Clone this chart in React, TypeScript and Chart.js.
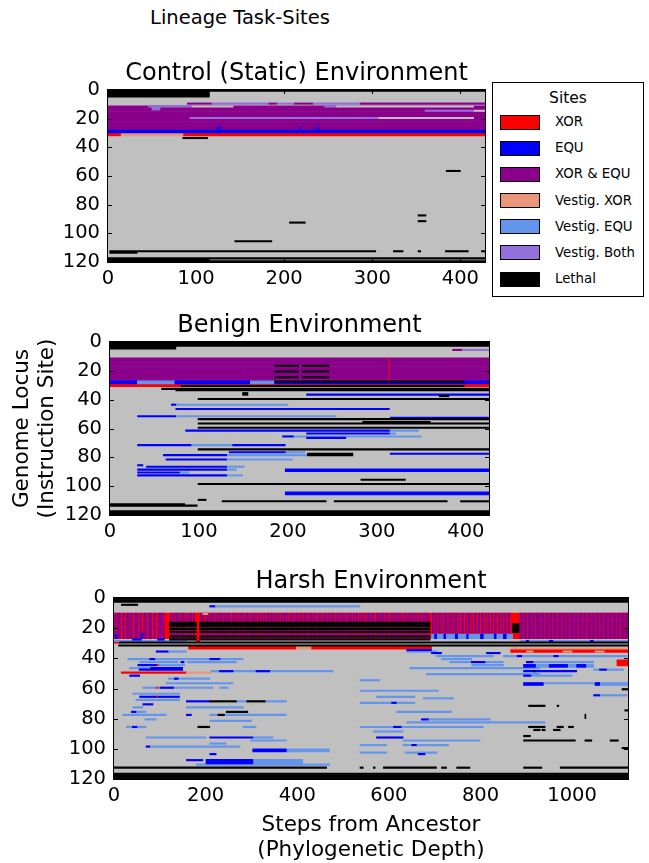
import React, { useEffect, useRef } from "react";
import { Chart, registerables } from "chart.js";

Chart.register(...registerables);

// A block is [firstLocus, endLocus (exclusive), fromStep, toStep]
type Block = [number, number, number, number];

const FONT = "'DejaVu Sans', 'Bitstream Vera Sans', sans-serif";

const siteKinds = ["XOR", "EQU", "XOR & EQU", "Vestig. XOR", "Vestig. EQU", "Vestig. Both", "Lethal"];
const siteColors = ["#ff0000", "#0000ff", "#8b008b", "#e9967a", "#6495ed", "#9370db", "#000000"];
const unusedColor = "#c0c0c0";

const locusTicks = [0, 20, 40, 60, 80, 100, 120];
const stepTicksShort = [0, 100, 200, 300, 400];
const stepTicksLong = [0, 200, 400, 600, 800, 1000];

// ---------------- Control (Static) Environment ----------------
const controlXor: Block[] = [[30, 32, 0, 15], [30, 32, 85, 428]];
const controlXorEqu: Block[] = [
  [11, 28, 0, 428], [9, 10, 90, 118], [9, 10, 182, 192], [9, 10, 211, 233], [9, 10, 286, 428],
];
const controlEqu: Block[] = [[28, 30, 0, 428], [26, 27, 123, 129], [26, 27, 218, 220], [26, 27, 236, 240]];
const controlVestigXor: Block[] = [[30, 32, 15, 85]];
const controlUnused: Block[] = [[11, 12, 95, 142], [11, 12, 259, 415], [14, 15, 415, 428], [19, 20, 307, 415]];
const controlVestigEqu: Block[] = [];
const controlVestigBoth: Block[] = [
  [9, 10, 118, 182], [9, 10, 192, 211], [9, 10, 233, 286], [11, 12, 46, 95], [12, 14, 50, 59],
  [11, 12, 246, 259], [14, 15, 360, 415], [19, 20, 93, 307],
];
const controlLethal: Block[] = [
  [0, 5, 0, 115], [0, 1, 115, 428], [33, 34, 85, 113], [56, 57, 384, 400], [87, 88, 352, 361],
  [91, 92, 352, 361], [92, 93, 206, 224], [105, 106, 144, 186], [112, 113, 2, 304], [112, 113, 324, 335],
  [112, 113, 352, 355], [112, 113, 383, 409], [112, 113, 424, 428], [113, 114, 2, 33],
  [117, 120, 0, 115], [117, 118, 115, 428], [119, 120, 115, 428],
];

// ---------------- Benign Environment ----------------
const benignXor: Block[] = [[11, 27, 313, 315], [29, 31, 0, 426]];
const benignXorEqu: Block[] = [[11, 27, 0, 313], [11, 27, 315, 426], [5, 6, 385, 396]];
const benignEqu: Block[] = [
  [27, 29, 0, 30], [27, 29, 73, 157], [28, 29, 185, 398], [27, 29, 398, 426], [36, 37, 221, 426],
  [43, 44, 69, 74], [46, 47, 74, 314], [51, 52, 31, 74], [52, 53, 315, 426], [61, 62, 85, 314],
  [63, 64, 221, 314], [65, 66, 194, 206], [66, 67, 221, 265], [71, 72, 31, 91], [71, 72, 138, 197],
  [76, 77, 134, 197], [77, 78, 315, 426], [78, 79, 60, 131], [81, 82, 63, 131], [85, 86, 31, 37],
  [86, 87, 41, 131], [88, 89, 31, 131], [88, 90, 197, 426], [90, 91, 31, 78], [92, 93, 31, 131],
  [104, 106, 197, 426],
];
const benignVestigXor: Block[] = [];
const benignUnused: Block[] = [[1, 2, 318, 426]];
const benignVestigEqu: Block[] = [
  [27, 29, 30, 73], [27, 29, 157, 185], [43, 44, 74, 200], [51, 52, 74, 254], [61, 62, 314, 347],
  [63, 64, 314, 321], [65, 66, 206, 350], [71, 72, 91, 138], [76, 77, 197, 219], [78, 79, 131, 222],
  [81, 82, 131, 205], [86, 87, 131, 151], [88, 89, 131, 142], [90, 91, 78, 89], [92, 93, 131, 149],
];
const benignVestigBoth: Block[] = [[5, 6, 396, 426]];
const benignLethal: Block[] = [
  [0, 3, 0, 426], [3, 5, 0, 74], [16, 17, 185, 212], [16, 17, 216, 246], [20, 21, 185, 212],
  [20, 21, 216, 246], [24, 25, 185, 212], [24, 25, 216, 246], [27, 28, 185, 398], [30, 31, 80, 398],
  [32, 33, 58, 426], [33, 34, 74, 426], [35, 37, 149, 155], [37, 38, 370, 381], [39, 40, 99, 426],
  [53, 54, 99, 426], [55, 56, 284, 360], [56, 57, 99, 426], [59, 60, 99, 426], [74, 75, 99, 426],
  [77, 79, 222, 273], [95, 96, 282, 332], [98, 99, 99, 426], [109, 110, 99, 108], [110, 111, 126, 243],
  [110, 111, 252, 379], [110, 111, 394, 426], [112, 113, 0, 84], [113, 114, 0, 98], [117, 120, 0, 426],
];

// ---------------- Harsh Environment ----------------
const harshXor: Block[] = [
  [10, 27, 0, 1122], [10, 29, 180, 187], [29, 30, 0, 12], [32, 34, 163, 398], [32, 34, 430, 693],
  [34, 36, 866, 1122], [41, 45, 1098, 1122], [49, 50, 16, 158], [44, 45, 92, 98], [59, 60, 92, 96],
  [65, 66, 92, 96],
];
const harshXorEqu: Block[] = [
  [10, 27, 2, 5], [10, 27, 8, 14], [10, 27, 19, 23], [10, 27, 27, 33], [10, 27, 36, 40], [10, 27, 45, 52],
  [10, 27, 56, 60], [10, 27, 65, 71], [10, 27, 75, 82], [10, 27, 87, 91], [10, 27, 96, 104], [10, 27, 107, 110],
  [10, 27, 123, 126], [10, 27, 129, 132], [10, 27, 135, 139], [10, 27, 142, 145], [10, 27, 148, 152],
  [10, 27, 155, 157], [10, 27, 161, 164], [10, 27, 167, 170], [10, 27, 173, 176], [10, 27, 189, 193],
  [10, 27, 196, 198], [10, 27, 202, 206], [10, 27, 209, 211], [10, 27, 214, 218], [10, 27, 222, 225],
  [10, 27, 228, 230], [10, 27, 233, 237], [10, 27, 240, 243], [10, 27, 246, 249], [10, 27, 252, 254],
  [10, 27, 258, 262], [10, 27, 265, 268], [10, 27, 271, 273], [10, 27, 277, 281], [10, 27, 284, 286],
  [10, 27, 289, 293], [10, 27, 297, 299], [10, 27, 302, 306], [10, 27, 309, 312], [10, 27, 315, 317],
  [10, 27, 321, 325], [10, 27, 328, 330], [10, 27, 334, 338], [10, 27, 341, 344], [10, 27, 347, 349],
  [10, 27, 352, 356], [10, 27, 360, 362], [10, 27, 365, 369], [10, 27, 372, 375], [10, 27, 378, 380],
  [10, 27, 384, 388], [10, 27, 391, 393], [10, 27, 397, 401], [10, 27, 404, 407], [10, 27, 410, 412],
  [10, 27, 415, 419], [10, 27, 423, 425], [10, 27, 428, 432], [10, 27, 435, 438], [10, 27, 441, 443],
  [10, 27, 447, 451], [10, 27, 454, 456], [10, 27, 459, 463], [10, 27, 467, 470], [10, 27, 473, 475],
  [10, 27, 478, 482], [10, 27, 486, 488], [10, 27, 491, 495], [10, 27, 498, 501], [10, 27, 504, 506],
  [10, 27, 510, 514], [10, 27, 517, 519], [10, 27, 522, 526], [10, 27, 529, 532], [10, 27, 536, 538],
  [10, 27, 541, 545], [10, 27, 549, 551], [10, 27, 554, 558], [10, 27, 561, 564], [10, 27, 567, 569],
  [10, 27, 573, 577], [10, 27, 580, 582], [10, 27, 585, 589], [10, 27, 592, 595], [10, 27, 598, 600],
  [10, 27, 604, 608], [10, 27, 611, 613], [10, 27, 616, 620], [10, 27, 623, 626], [10, 27, 629, 631],
  [10, 27, 635, 639], [10, 27, 642, 644], [10, 27, 647, 651], [10, 27, 654, 657], [10, 27, 660, 662],
  [10, 27, 666, 670], [10, 27, 673, 675], [10, 27, 678, 682], [10, 27, 685, 688],
  [10, 24, 695, 699], [10, 24, 702, 705], [10, 24, 709, 713], [10, 24, 716, 718], [10, 24, 722, 727],
  [10, 24, 731, 734], [10, 24, 737, 740], [10, 24, 744, 749], [10, 24, 753, 755], [10, 24, 759, 763],
  [10, 24, 767, 770], [10, 24, 773, 777], [10, 24, 781, 783], [10, 24, 787, 791], [10, 24, 795, 798],
  [10, 24, 802, 806], [10, 24, 810, 812], [10, 24, 816, 820], [10, 24, 824, 827], [10, 24, 831, 835],
  [10, 24, 839, 841], [10, 24, 845, 849], [10, 24, 853, 856], [10, 24, 860, 864],
  [10, 27, 886, 892], [10, 27, 895, 901], [10, 27, 904, 911], [10, 27, 914, 919], [10, 27, 922, 929],
  [10, 27, 932, 938], [10, 27, 941, 948], [10, 27, 951, 956], [10, 27, 959, 966], [10, 27, 969, 975],
  [10, 27, 978, 985], [10, 27, 988, 993], [10, 27, 996, 1003], [10, 27, 1006, 1012], [10, 27, 1015, 1022],
  [10, 27, 1025, 1030], [10, 27, 1033, 1040], [10, 27, 1043, 1049], [10, 27, 1052, 1059],
  [10, 27, 1062, 1067], [10, 27, 1070, 1077], [10, 27, 1080, 1086], [10, 27, 1089, 1096],
  [10, 27, 1099, 1104], [10, 27, 1107, 1114], [10, 27, 1117, 1122],
];
const harshVestigXor: Block[] = [
  [10, 11, 194, 205], [32, 34, 398, 430], [33, 34, 866, 1122], [35, 36, 900, 915], [35, 36, 980, 1000],
  [35, 36, 1050, 1070], [49, 50, 158, 212],
];
const harshUnused: Block[] = [];
const harshVestigEqu: Block[] = [
  [5, 6, 220, 537], [28, 29, 0, 158], [24, 27, 693, 870], [28, 29, 886, 1122], [35, 36, 118, 158],
  [35, 36, 639, 705], [40, 41, 30, 78], [40, 41, 89, 209], [40, 41, 231, 282], [42, 43, 56, 140],
  [42, 43, 160, 267], [44, 45, 98, 154], [46, 47, 34, 80], [48, 49, 212, 478], [53, 54, 118, 209],
  [56, 57, 114, 260], [59, 60, 63, 92], [59, 60, 130, 216], [59, 60, 231, 249], [63, 64, 41, 143],
  [67, 68, 48, 143], [68, 69, 267, 290], [68, 69, 330, 376], [72, 73, 41, 63], [72, 73, 158, 282],
  [75, 76, 48, 70], [77, 78, 19, 114], [77, 78, 209, 227], [77, 78, 241, 376], [80, 81, 67, 92],
  [81, 82, 209, 300], [85, 86, 27, 40], [85, 86, 50, 70], [85, 86, 282, 310], [92, 93, 70, 201],
  [92, 93, 303, 347], [94, 95, 298, 376], [96, 97, 209, 245], [98, 99, 78, 275], [100, 102, 376, 470],
  [107, 110, 303, 412], [110, 111, 180, 471], [38, 39, 704, 828], [38, 39, 850, 1120], [40, 41, 715, 781],
  [42, 43, 733, 780], [42, 43, 810, 850], [42, 43, 915, 1047], [44, 45, 781, 850], [44, 46, 920, 950],
  [44, 46, 990, 1010], [44, 46, 1030, 1047], [46, 47, 646, 930], [47, 48, 1047, 1060], [47, 48, 1075, 1112],
  [50, 51, 682, 930], [51, 52, 910, 1000], [54, 55, 537, 580], [56, 57, 937, 1047], [56, 58, 1060, 1122],
  [61, 62, 537, 708], [64, 65, 1060, 1120], [65, 66, 573, 657], [66, 67, 675, 741], [69, 70, 537, 606],
  [69, 70, 616, 657], [75, 76, 617, 737], [80, 81, 686, 821], [82, 83, 639, 941], [85, 86, 537, 610],
  [85, 86, 627, 806], [88, 89, 566, 631], [94, 95, 631, 799], [97, 98, 537, 595], [97, 98, 631, 650],
  [97, 98, 660, 730], [102, 103, 537, 595], [102, 103, 635, 705],
];
const harshEqu: Block[] = [
  [5, 6, 209, 220], [24, 27, 3, 6], [23, 27, 60, 63], [27, 28, 40, 60], [27, 28, 95, 110],
  [24, 27, 700, 704], [24, 27, 720, 724], [24, 27, 745, 750], [24, 27, 770, 773], [24, 27, 800, 806],
  [24, 27, 830, 834], [24, 27, 850, 856], [28, 29, 900, 905], [28, 29, 950, 958], [28, 29, 1040, 1046],
  [34, 35, 639, 693], [35, 36, 92, 118], [36, 37, 693, 715], [36, 37, 813, 843], [40, 41, 78, 89],
  [40, 41, 209, 231], [42, 43, 146, 153], [44, 45, 52, 92], [46, 47, 80, 150], [47, 48, 55, 150],
  [48, 49, 230, 260], [48, 49, 310, 340], [51, 52, 34, 56], [53, 54, 132, 140], [59, 60, 100, 130],
  [65, 66, 56, 92], [65, 66, 96, 143], [68, 69, 158, 209], [70, 71, 63, 85], [75, 76, 38, 48],
  [77, 78, 158, 169], [85, 86, 40, 50], [92, 93, 209, 303], [98, 99, 70, 78], [100, 102, 303, 376],
  [103, 104, 209, 223], [107, 108, 158, 194], [107, 110, 201, 303], [38, 39, 880, 890], [38, 39, 960, 970],
  [42, 43, 780, 810], [42, 43, 900, 915], [44, 46, 894, 920], [44, 46, 950, 990], [44, 46, 1010, 1030],
  [47, 48, 1060, 1075], [48, 49, 894, 1010], [51, 52, 894, 910], [56, 58, 894, 937], [56, 58, 1050, 1060],
  [64, 65, 1047, 1060], [69, 70, 606, 616], [80, 81, 671, 686], [85, 86, 610, 627], [92, 93, 573, 631],
  [97, 98, 650, 660], [103, 104, 664, 679],
];
const harshVestigBoth: Block[] = [];
const harshLethal: Block[] = [
  [0, 3, 0, 1122], [4, 5, 16, 52], [16, 19, 121, 180], [16, 19, 187, 690], [20, 21, 121, 180],
  [20, 21, 187, 690], [22, 23, 121, 180], [22, 23, 187, 690], [25, 26, 121, 180], [25, 26, 187, 690],
  [27, 28, 121, 180], [27, 28, 187, 690], [17, 23, 870, 884], [29, 30, 12, 1122], [31, 32, 10, 1122],
  [48, 49, 915, 919], [60, 61, 1109, 1122], [68, 69, 209, 267], [68, 69, 290, 330], [71, 72, 905, 941],
  [71, 72, 967, 971], [74, 75, 1115, 1122], [75, 76, 245, 292], [77, 78, 227, 241], [77, 80, 1028, 1030],
  [85, 86, 183, 209], [85, 86, 905, 941], [85, 86, 967, 981], [85, 86, 992, 1003], [87, 88, 916, 930],
  [87, 88, 934, 941], [87, 88, 959, 974], [91, 92, 894, 909], [94, 95, 894, 1007], [94, 95, 1028, 1043],
  [94, 95, 1083, 1101], [99, 100, 1109, 1122], [112, 113, 0, 464], [112, 113, 537, 544], [112, 113, 566, 570],
  [112, 113, 588, 704], [112, 113, 715, 726], [112, 113, 748, 777], [112, 113, 894, 934], [112, 113, 974, 1122],
  [116, 120, 0, 1122],
];

// drawing order, bottom layer first
const drawOrder = ["XOR", "XOR & EQU", "Vestig. XOR", "Unused", "Vestig. EQU", "EQU", "Vestig. Both", "Lethal"];

const colorOf = (kind: string) => (kind === "Unused" ? unusedColor : siteColors[siteKinds.indexOf(kind)]);

const toBars = (blocks: Block[]) =>
  blocks.flatMap(([r0, r1, x0, x1]) => {
    const out: { y: number; x: [number, number] }[] = [];
    for (let r = r0; r < r1; r++) out.push({ y: r + 0.5, x: [x0, x1] });
    return out;
  });

interface PanelSpec {
  title: string;
  xMax: number;
  xTicks: number[];
  top: number;
  height: number;
  left: number;
  right: number;
  axisHeight: number;
  yTitle?: string[];
  xTitle?: string[];
  layers: Record<string, Block[]>;
}

const panels: PanelSpec[] = [
  {
    title: "Control (Static) Environment",
    xMax: 428,
    xTicks: stepTicksShort,
    top: 50,
    height: 252,
    left: 108,
    right: 485,
    axisHeight: 40,
    layers: {
      XOR: controlXor, "XOR & EQU": controlXorEqu, EQU: controlEqu, "Vestig. XOR": controlVestigXor,
      Unused: controlUnused, "Vestig. EQU": controlVestigEqu, "Vestig. Both": controlVestigBoth, Lethal: controlLethal,
    },
  },
  {
    title: "Benign Environment",
    xMax: 426,
    xTicks: stepTicksShort,
    top: 302,
    height: 253,
    left: 110,
    right: 489,
    axisHeight: 40,
    yTitle: ["Genome Locus", "(Instruction Site)"],
    layers: {
      XOR: benignXor, "XOR & EQU": benignXorEqu, EQU: benignEqu, "Vestig. XOR": benignVestigXor,
      Unused: benignUnused, "Vestig. EQU": benignVestigEqu, "Vestig. Both": benignVestigBoth, Lethal: benignLethal,
    },
  },
  {
    title: "Harsh Environment",
    xMax: 1122,
    xTicks: stepTicksLong,
    top: 558,
    height: 305,
    left: 114,
    right: 628,
    axisHeight: 84,
    xTitle: ["Steps from Ancestor", "(Phylogenetic Depth)"],
    layers: {
      XOR: harshXor, "XOR & EQU": harshXorEqu, EQU: harshEqu, "Vestig. XOR": harshVestigXor,
      Unused: harshUnused, "Vestig. EQU": harshVestigEqu, "Vestig. Both": harshVestigBoth, Lethal: harshLethal,
    },
  },
];

const framePlugin = {
  id: "frameAndBackground",
  beforeDatasetsDraw(chart: any) {
    const { ctx, chartArea: a } = chart;
    ctx.save();
    ctx.fillStyle = unusedColor;
    ctx.fillRect(a.left, a.top, a.right - a.left, a.bottom - a.top);
    ctx.restore();
  },
  afterDatasetsDraw(chart: any) {
    const { ctx, chartArea: a, scales } = chart;
    const len = 4;
    ctx.save();
    ctx.strokeStyle = "#000";
    ctx.lineWidth = 1;
    ctx.beginPath();
    scales.x.ticks.forEach((t: any) => {
      const p = Math.round(scales.x.getPixelForValue(t.value)) + 0.5;
      ctx.moveTo(p, a.top);
      ctx.lineTo(p, a.top + len);
      ctx.moveTo(p, a.bottom);
      ctx.lineTo(p, a.bottom - len);
    });
    scales.y.ticks.forEach((t: any) => {
      const p = Math.round(scales.y.getPixelForValue(t.value)) + 0.5;
      ctx.moveTo(a.left, p);
      ctx.lineTo(a.left + len, p);
      ctx.moveTo(a.right, p);
      ctx.lineTo(a.right - len, p);
    });
    ctx.stroke();
    ctx.strokeRect(a.left - 0.5, a.top - 0.5, a.right - a.left + 1, a.bottom - a.top + 1);
    ctx.restore();
  },
};

function TaskPanel({ spec }: { spec: PanelSpec }) {
  const ref = useRef<HTMLCanvasElement>(null);
  useEffect(() => {
    const canvas = ref.current;
    if (!canvas) return;
    const datasets = drawOrder
      .map((kind) => ({
        label: kind,
        data: toBars(spec.layers[kind] || []),
        backgroundColor: colorOf(kind),
        borderWidth: 0,
        grouped: false,
        barPercentage: 1,
        categoryPercentage: 1,
      }))
      .reverse();
    const tickFont = { family: FONT, size: 19.5, lineHeight: 1.2 };
    const axisTitleFont = { family: FONT, size: 21.5, lineHeight: 1.15 };
    const chart = new Chart(canvas, {
      type: "bar",
      data: { datasets } as any,
      options: {
        animation: false,
        responsive: false,
        maintainAspectRatio: false,
        indexAxis: "y",
        events: [],
        layout: { padding: { left: 0, right: 649 - spec.right, top: 12, bottom: 0 } },
        plugins: {
          legend: { display: false },
          tooltip: { enabled: false },
          title: {
            display: true,
            text: spec.title,
            color: "#000",
            fullSize: false,
            font: { family: FONT, size: 24, lineHeight: 1, weight: "normal" },
            padding: { top: 0, bottom: 4 },
          },
        },
        scales: {
          x: {
            type: "linear",
            position: "bottom",
            min: 0,
            max: spec.xMax,
            offset: false,
            grid: { display: false, drawTicks: false },
            border: { display: false },
            ticks: {
              color: "#000",
              font: tickFont,
              padding: 5,
              autoSkip: false,
              maxRotation: 0,
              callback: (v: any) => `${v}`,
            },
            afterBuildTicks: (s: any) => {
              s.ticks = spec.xTicks.map((v) => ({ value: v }));
            },
            afterFit: (s: any) => {
              s.height = spec.axisHeight;
            },
            title: spec.xTitle
              ? { display: true, text: spec.xTitle, color: "#000", font: axisTitleFont, padding: { top: 0, bottom: 0 } }
              : { display: false },
          },
          y: {
            type: "linear",
            min: 0,
            max: 120,
            reverse: true,
            offset: false,
            grid: { display: false, drawTicks: false, offset: false },
            border: { display: false },
            ticks: {
              color: "#000",
              font: tickFont,
              padding: 8,
              autoSkip: false,
              callback: (v: any) => `${v}`,
            },
            afterBuildTicks: (s: any) => {
              s.ticks = locusTicks.map((v) => ({ value: v }));
            },
            afterFit: (s: any) => {
              s.width = spec.left;
            },
            title: spec.yTitle
              ? { display: true, text: spec.yTitle, color: "#000", font: axisTitleFont, padding: { top: 10, bottom: 0 } }
              : { display: false },
          },
        },
      } as any,
      plugins: [framePlugin],
    });
    return () => chart.destroy();
  }, [spec]);
  return (
    <canvas
      ref={ref}
      width={649}
      height={spec.height}
      style={{ position: "absolute", left: 0, top: spec.top, width: 649, height: spec.height }}
    />
  );
}

function SitesLegend() {
  const rowStep = 26.17;
  const firstRow = 39;
  return (
    <div
      style={{
        position: "absolute",
        left: 492,
        top: 82,
        width: 152,
        height: 215,
        border: "1px solid #000",
        boxSizing: "border-box",
        background: "#fff",
        fontFamily: FONT,
        color: "#000",
      }}
    >
      <div style={{ position: "absolute", left: 0, width: "100%", top: 4.7, lineHeight: "20px", fontSize: 15.5, textAlign: "center" }}>
        Sites
      </div>
      {siteKinds.map((kind, i) => {
        const c = firstRow + i * rowStep;
        return (
          <React.Fragment key={kind}>
            <div
              style={{
                position: "absolute",
                left: 7,
                top: c - 7.5,
                width: 40,
                height: 15,
                boxSizing: "border-box",
                border: "1px solid #000",
                background: siteColors[i],
              }}
            />
            <div style={{ position: "absolute", left: 62, top: c - 8, lineHeight: "16px", fontSize: 13.3, whiteSpace: "nowrap" }}>
              {kind}
            </div>
          </React.Fragment>
        );
      })}
    </div>
  );
}

export default function App() {
  return (
    <div
      style={{
        position: "absolute",
        left: 0,
        top: 0,
        width: 649,
        height: 863,
        overflow: "hidden",
        background: "#fff",
        fontFamily: FONT,
      }}
    >
      <div
        style={{
          position: "absolute",
          left: 0,
          top: 6.3,
          width: 480,
          lineHeight: "24px",
          fontSize: 19.5,
          textAlign: "center",
          color: "#000",
        }}
      >
        Lineage Task-Sites
      </div>
      {panels.map((p) => (
        <TaskPanel key={p.title} spec={p} />
      ))}
      <SitesLegend />
    </div>
  );
}
